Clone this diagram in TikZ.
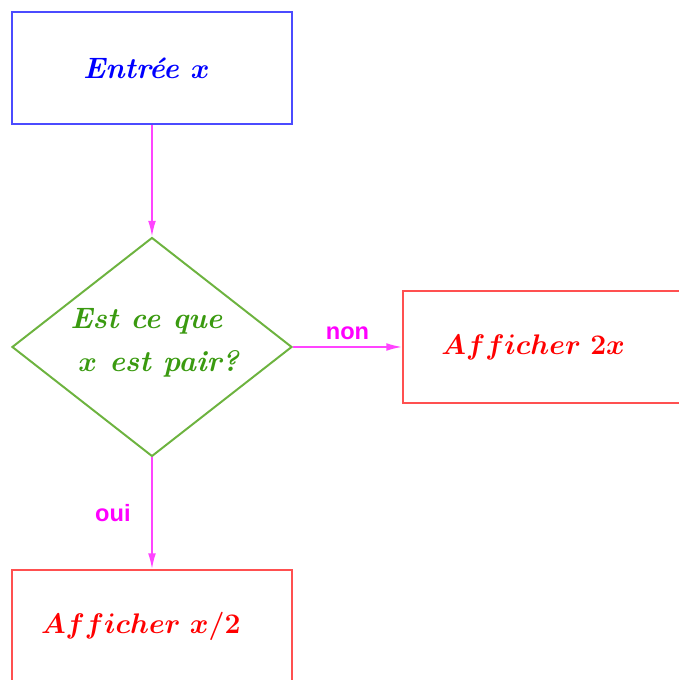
\documentclass[tikz,border=0pt]{standalone}
\usepackage{fontspec}
\usepackage{amsmath,bm}
\newfontfamily\labelfont{Liberation Sans}
\usetikzlibrary{shapes.geometric, arrows, arrows.meta}
\definecolor{bleu}{HTML}{4B4BFF}
\definecolor{vert}{HTML}{6DB33F}
\definecolor{vertfonce}{HTML}{3A9A10}
\definecolor{rouge}{HTML}{FF5050}
\definecolor{rose}{HTML}{FF44FF}
\definecolor{fuchsia}{HTML}{FF00FF}
\tikzstyle{entree} = [rectangle, minimum width=5cm, minimum height=2cm, text centered, draw=bleu, text=blue, line width=1pt, font=\fontsize{15}{18}\selectfont]
\tikzstyle{test} = [diamond, minimum width=5cm, minimum height=3.91cm, inner sep=0pt, draw=vert, line width=1pt]
\tikzstyle{question} = [align=center, text=vertfonce, yshift=0.08cm, font=\fontsize{15}{22}\selectfont]
\tikzstyle{sortie} = [rectangle, minimum width=5cm, minimum height=2cm, text centered, draw=rouge, text=red, line width=1pt, font=\Large]
\tikzstyle{arrow} = [thick,->,>={Latex[length=2.8mm,width=1.4mm]},draw=rose]
\tikzstyle{reponse} = [text=fuchsia, font=\labelfont\large\bfseries]

\begin{document}
\begin{tikzpicture}[node distance=1cm]
        \useasboundingbox (-2.714,1.214) rectangle (9.411,-10.929);
        \node (entree) [entree] {\textbf{\textit{Entrée $\bm{x}$}}\hspace*{0.2cm}};
        \node (pair) [test, below of=entree, yshift=-3.982cm, label={[question]center:\textbf{\textit{Est ce que}}\hspace*{0.2cm}\\ \hspace*{0.25cm}\textbf{\textit{$\bm{x}$ est pair?}}}] {};
        \node (double) [sortie, right of=pair, xshift=5.982cm] {$\bm{Afficher\ 2x}$\hspace*{0.35cm}};
        \node (moitie) [sortie, below of=pair, yshift=-3.982cm] {$\bm{Afficher\ x/2}$\hspace*{0.4cm}};

        \draw [arrow] (entree) -- (pair);
        \draw [arrow] (pair) -- node[reponse, above] {non} (double);
        \draw [arrow] (pair) -- node[reponse, left, xshift=-0.25cm] {oui} (moitie);
    \end{tikzpicture}
\end{document}
